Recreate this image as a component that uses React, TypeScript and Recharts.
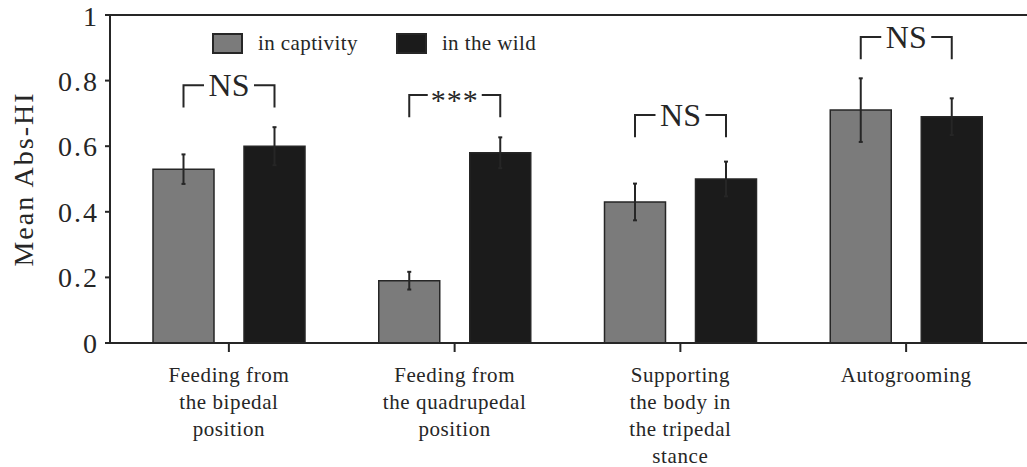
import { Bar, BarChart, ErrorBar, LabelList, Legend, ReferenceLine, XAxis, YAxis } from 'recharts';

// behaviours (multi-line tick labels split on \n)
const categories = [
  'Feeding from\nthe bipedal\nposition',
  'Feeding from\nthe quadrupedal\nposition',
  'Supporting\nthe body in\nthe tripedal\nstance',
  'Autogrooming',
];

const captivity = [0.53, 0.19, 0.43, 0.71];
const captivityErr = [0.045, 0.027, 0.056, 0.097];
const wild = [0.6, 0.58, 0.5, 0.69];
const wildErr = [0.058, 0.047, 0.053, 0.056];

// significance brackets between the two bars of each group
const sigLabels = ['NS', '***', 'NS', 'NS'];
const sigLevels = [0.786, 0.756, 0.695, 0.933];

const yTicks = [0, 0.2, 0.4, 0.6, 0.8, 1];

const GREY = '#7b7b7b';
const BLACK = '#1b1b1b';
const INK = '#262626';
const FONT = '"Liberation Serif", "Times New Roman", serif';
const BAR_SIZE = 61;
const BAR_GAP = 30;

const rows = categories.map((name, i) => ({
  name,
  captivity: captivity[i],
  captivityErr: captivityErr[i],
  wild: wild[i],
  wildErr: wildErr[i],
}));

const series = [
  { key: 'captivity', label: 'in captivity', color: GREY },
  { key: 'wild', label: 'in the wild', color: BLACK },
];

function CategoryTick(props: any) {
  const { x, y, payload } = props;
  const lines = String(payload.value).split('\n');
  return (
    <g>
      {lines.map((line, i) => (
        <text
          key={i}
          x={x}
          y={y + 30 + i * 27}
          textAnchor="middle"
          fontFamily={FONT}
          fontSize={21}
          letterSpacing={0.6}
          fill={INK}
        >
          {line}
        </text>
      ))}
    </g>
  );
}

// drawn from the "wild" bar geometry; the captivity bar sits one bar + gap to the left
function renderBracket(props: any) {
  const box = props.viewBox ?? props;
  const { x, y, width, height } = box;
  let idx = props.index;
  if (idx === undefined || idx === null) idx = wild.indexOf(props.value);
  const v = wild[idx];
  if (!v || !height) return null;
  const ppu = height / v;
  const base = y + height;
  const top = base - sigLevels[idx] * ppu;
  const bottom = top + 0.068 * ppu;
  const right = x + width / 2;
  const left = right - width - BAR_GAP;
  const mid = (left + right) / 2;
  const label = sigLabels[idx];
  const half = label === 'NS' ? 25 : 27;
  return (
    <g key={`sig-${idx}`} stroke={INK} strokeWidth={2} fill="none">
      <polyline points={`${left},${bottom} ${left},${top} ${mid - half},${top}`} />
      <polyline points={`${mid + half},${top} ${right},${top} ${right},${bottom}`} />
      {label === 'NS' ? (
        <text x={mid} y={top + 11} textAnchor="middle" fontFamily={FONT} fontSize={32} fill={INK} stroke="none">
          {label}
        </text>
      ) : (
        <text x={mid} y={top + 15} textAnchor="middle" fontFamily={FONT} fontSize={30} fill={INK} stroke="none" letterSpacing={1}>
          {label}
        </text>
      )}
    </g>
  );
}

function renderLegend() {
  return (
    <div style={{ display: 'flex', alignItems: 'center', fontFamily: FONT, fontSize: 21, color: INK }}>
      {series.map((s, i) => (
        <div key={s.key} style={{ display: 'flex', alignItems: 'center', marginRight: i === 0 ? 38 : 0 }}>
          <span
            style={{
              display: 'inline-block',
              width: 27,
              height: 17,
              background: s.color,
              border: `2px solid ${INK}`,
              marginRight: 15,
            }}
          />
          <span style={{ letterSpacing: 0.4, whiteSpace: 'nowrap' }}>{s.label}</span>
        </div>
      ))}
    </div>
  );
}

export default function App() {
  return (
    <div style={{ position: 'absolute', left: 0, top: 0, background: '#fff' }}>
      <BarChart
        width={1027}
        height={467}
        data={rows}
        margin={{ top: 15, right: 0, bottom: 0, left: 0 }}
        barSize={BAR_SIZE}
        barGap={BAR_GAP}
      >
        <XAxis
          dataKey="name"
          height={124}
          interval={0}
          padding={{ left: 6, right: 8 }}
          tickSize={9}
          tickMargin={0}
          axisLine={{ stroke: INK, strokeWidth: 2 }}
          tickLine={{ stroke: INK, strokeWidth: 2 }}
          tick={(p: any) => <CategoryTick {...p} />}
        />
        <YAxis
          width={110}
          domain={[0, 1]}
          ticks={yTicks}
          tickSize={5}
          tickMargin={6}
          axisLine={{ stroke: INK, strokeWidth: 2 }}
          tickLine={{ stroke: INK, strokeWidth: 2 }}
          tick={{ fontFamily: FONT, fontSize: 28, fill: INK, letterSpacing: 2 } as any}
          label={{
            content: (p: any) => {
              const vb = p.viewBox;
              const cy = vb.y + vb.height / 2;
              return (
                <text
                  x={23}
                  y={cy}
                  transform={`rotate(-90, 23, ${cy})`}
                  textAnchor="middle"
                  dominantBaseline="central"
                  fontFamily={FONT}
                  fontSize={28}
                  letterSpacing={2}
                  fill={INK}
                >
                  Mean Abs-HI
                </text>
              );
            },
          }}
        />
        <ReferenceLine y={1} stroke={INK} strokeWidth={2} />
        <Legend
          layout="horizontal"
          verticalAlign="middle"
          align="center"
          wrapperStyle={{ top: 31, left: 212, width: 'auto' }}
          content={renderLegend}
        />
        <Bar dataKey="captivity" fill={GREY} stroke={INK} strokeWidth={1.5} isAnimationActive={false}>
          <ErrorBar dataKey="captivityErr" width={2} stroke={INK} strokeWidth={2} />
        </Bar>
        <Bar dataKey="wild" fill={BLACK} stroke={INK} strokeWidth={1.5} isAnimationActive={false}>
          <ErrorBar dataKey="wildErr" width={2} stroke={INK} strokeWidth={2} />
          <LabelList dataKey="wild" content={renderBracket} />
        </Bar>
      </BarChart>
    </div>
  );
}
